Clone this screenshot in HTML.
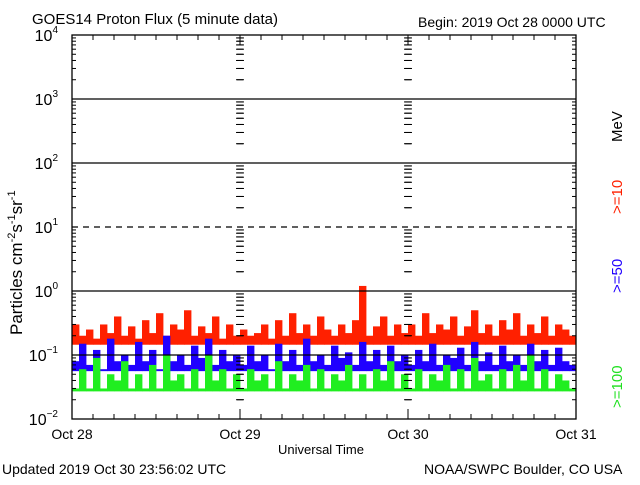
<!DOCTYPE html>
<html><head><meta charset="utf-8"><style>
body{margin:0;background:#fff;}
svg text{font-family:"Liberation Sans",sans-serif;}
</style></head><body>
<svg id="chart" width="640" height="480" viewBox="0 0 640 480" xmlns="http://www.w3.org/2000/svg">
<rect width="640" height="480" fill="#fff"/>
<text x="32" y="24" font-size="15">GOES14 Proton Flux (5 minute data)</text>
<text x="418" y="27" font-size="14">Begin: 2019 Oct 28 0000 UTC</text>
<text x="2" y="474" font-size="14">Updated 2019 Oct 30 23:56:02 UTC</text>
<text x="424" y="474" font-size="14">NOAA/SWPC Boulder, CO USA</text>
<text x="278" y="454" font-size="13">Universal Time</text>
<text transform="translate(22,335) rotate(-90)" font-size="17">Particles cm<tspan font-size="11" dy="-7">-2</tspan><tspan dy="7">s</tspan><tspan font-size="11" dy="-7">-1</tspan><tspan dy="7">sr</tspan><tspan font-size="11" dy="-7">-1</tspan></text>
<text transform="translate(622,142) rotate(-90)" font-size="15">MeV</text>
<text transform="translate(622,214) rotate(-90)" font-size="15" fill="#ff2000">&gt;=10</text>
<text transform="translate(622,293) rotate(-90)" font-size="15" fill="#2000ff">&gt;=50</text>
<text transform="translate(622,408) rotate(-90)" font-size="15" fill="#20e020">&gt;=100</text>
<g id="grid"></g><g id="series"></g><g id="axes"></g>
</svg>
<script>
const dayLabels=["Oct 28","Oct 29","Oct 30","Oct 31"];
const decadeExps=[-2,-1,0,1,2,3,4];
const floors=[0.15,0.058,0.028];
const red=[0.3,0.2,0.25,0.18,0.3,0.22,0.4,0.2,0.28,0.18,0.35,0.22,0.45,0.2,0.3,0.25,0.5,0.2,0.28,0.22,0.4,0.18,0.3,0.2,
0.25,0.2,0.22,0.3,0.18,0.35,0.2,0.45,0.22,0.3,0.2,0.4,0.25,0.2,0.3,0.22,0.35,1.2,0.2,0.28,0.4,0.2,0.3,0.22,
0.3,0.2,0.45,0.22,0.3,0.25,0.4,0.2,0.28,0.5,0.22,0.3,0.2,0.35,0.25,0.45,0.2,0.3,0.22,0.4,0.2,0.3,0.25,0.2];
const blue=[0.08,0.15,0.07,0.12,0.06,0.18,0.08,0.1,0.07,0.16,0.08,0.12,0.06,0.2,0.08,0.1,0.07,0.14,0.09,0.18,0.07,0.12,0.08,0.1,
0.07,0.14,0.08,0.1,0.06,0.15,0.08,0.12,0.07,0.18,0.08,0.1,0.07,0.14,0.09,0.11,0.07,0.16,0.08,0.12,0.07,0.14,0.08,0.1,
0.07,0.12,0.08,0.15,0.07,0.1,0.09,0.13,0.07,0.16,0.08,0.11,0.07,0.14,0.08,0.1,0.07,0.15,0.08,0.12,0.07,0.13,0.08,0.07];
const green=[0.03,0.06,0.03,0.09,0.03,0.05,0.04,0.08,0.03,0.05,0.03,0.07,0.03,0.1,0.04,0.05,0.03,0.06,0.03,0.1,0.04,0.06,0.03,0.05,
0.03,0.06,0.04,0.05,0.03,0.08,0.03,0.05,0.04,0.07,0.03,0.06,0.03,0.05,0.04,0.07,0.03,0.05,0.03,0.06,0.04,0.08,0.03,0.05,
0.03,0.06,0.03,0.05,0.04,0.07,0.03,0.06,0.03,0.09,0.04,0.05,0.03,0.06,0.03,0.07,0.04,0.1,0.03,0.06,0.03,0.05,0.04,0.03];
const L=72,R=576,T=35,B=419;
const NS="http://www.w3.org/2000/svg";
function xs(h){return L+(R-L)*h/72;}
function ys(v){return B-(B-T)*(Math.log10(v)+2)/6;}
function mk(tag,attrs,parent){const e=document.createElementNS(NS,tag);for(const k in attrs)e.setAttribute(k,attrs[k]);parent.appendChild(e);return e;}
const grid=document.getElementById('grid'),axes=document.getElementById('axes'),ser=document.getElementById('series');
decadeExps.forEach(e=>{
  if(e===-2||e===4)return;
  const y=ys(Math.pow(10,e));
  const l=mk('line',{x1:L,x2:R,y1:y,y2:y,stroke:'#000','stroke-width':1.3},axes);
  
  
  if(e===1)l.setAttribute('stroke-dasharray','6,5');
});
const fr=mk('rect',{x:L,y:T,width:R-L,height:B-T,fill:'none',stroke:'#000','stroke-width':1.3},axes);


[0,24,48,72].forEach(h=>{
  const x=xs(h);
  decadeExps.forEach(e=>{
    if(e===4)return;
    for(let m=2;m<=9;m++){
      const y=ys(m*Math.pow(10,e));
      if(h<72)mk('line',{x1:x-(h?3:0),x2:x+4,y1:y,y2:y,stroke:'#000'},axes);
      if(h>0)mk('line',{x1:x-4,x2:x+(h<72?3:0),y1:y,y2:y,stroke:'#000'},axes);
    }
  });
  if(h>0&&h<72){
    [B-10,T].forEach(y0=>mk('line',{x1:x,x2:x,y1:y0,y2:y0+10,stroke:'#000'},axes));
  }
});
for(let h=3;h<72;h+=3){if(h%24===0)continue;const x=xs(h);
  mk('line',{x1:x,x2:x,y1:T,y2:T+5,stroke:'#000'},axes);
  mk('line',{x1:x,x2:x,y1:B-5,y2:B,stroke:'#000'},axes);}
dayLabels.forEach((d,i)=>{
  const t=mk('text',{x:xs(i*24),y:B+20,'font-size':14,'text-anchor':'middle'},axes);
  
  
  t.textContent=d;
});
decadeExps.forEach(e=>{
  const t=mk('text',{x:L-14,y:ys(Math.pow(10,e))+6,'font-size':16,'text-anchor':'end'},axes);
  
  
  t.textContent='10';
  const s=mk('tspan',{'font-size':10,dy:-8},t);s.textContent=String(e).replace('-','\u2212');
});
[[red,'#ff2000','series-10mev',floors[0]],[blue,'#2000ff','series-50mev',floors[1]],[green,'#20ee20','series-100mev',floors[2]]].forEach(([arr,c,n,f])=>{
  const g=mk('g',{fill:c},ser);
  
  
  arr.forEach((v,i)=>{
    const x0=xs(i),w=xs(i+1)-x0;
    const yv=ys(v),yf=ys(f);
    mk('rect',{x:x0,y:yv,width:w+0.4,height:yf-yv+1},g);
  });
});
</script>
</body></html>
